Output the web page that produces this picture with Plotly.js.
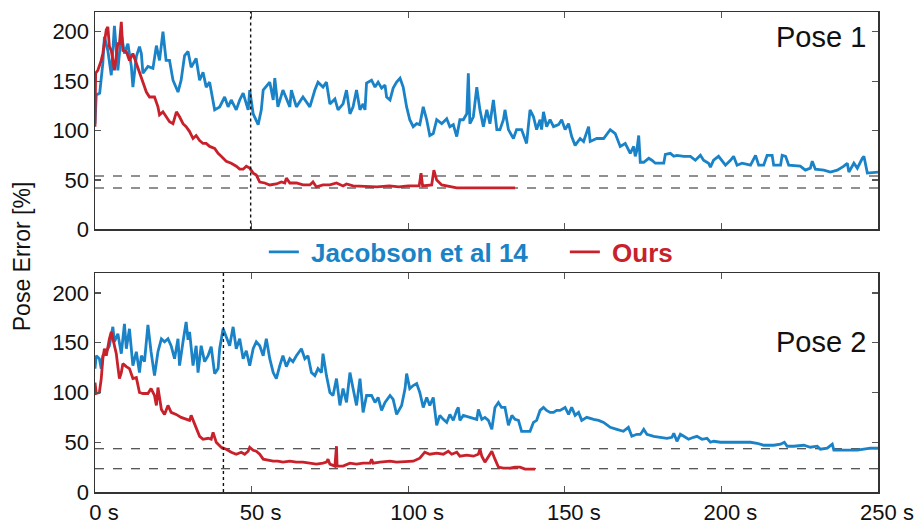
<!DOCTYPE html>
<html><head><meta charset="utf-8">
<script src="https://cdn.plot.ly/plotly-3.0.1.min.js"></script>
<style>html,body{margin:0;padding:0;background:#fff}#chart{width:920px;height:526px}</style>
</head><body><div id="chart"></div>
<script>
// Pose 1 – Jacobson et al 14
const p1JacX = [0,0.4,1.5,2.5,3.0,4.1,5.2,6.2,7.3,8.4,9.4,10.5,11.6,12.1,13.2,14.2,14.8,15.3,16.9,18.5,19.6,20.6,21.7,22.7,23.8,24.9,26.5,27.5,28.6,29.7,30.7,32.3,33.4,34.5,35.5,36.6,38.2,39.8,41.4,42.5,43.5,45.1,46.2,47.3,48.9,49.4,50.5,52.1,53.1,53.7,55.8,56.9,57.4,58.4,60.0,62.2,62.7,64.3,66.4,68.6,70.2,71.2,72.8,73.9,75.0,76.6,77.6,79.2,80.3,81.4,82.4,83.5,84.6,85.6,86.2,86.7,88.3,89.4,90.4,91.5,92.6,93.1,94.2,95.2,96.3,97.4,98.4,99.5,100.5,101.6,102.7,103.7,104.8,105.9,106.9,108.0,109.1,110.7,112.3,113.3,114.4,115.5,116.5,117.6,118.7,119.2,119.7,120.8,121.9,122.9,124.0,125.1,126.1,127.2,128.3,129.3,130.4,130.9,132.0,133.6,134.6,136.2,137.8,138.9,140.0,141.0,142.1,142.6,143.2,144.2,145.3,146.4,148.0,149.0,150.1,151.2,152.2,153.3,154.9,156.0,157.6,158.1,160.2,162.4,164.5,166.1,167.7,169.3,170.9,172.0,172.5,173.0,173.6,174.1,175.2,176.8,177.8,178.9,180.0,181.6,182.1,183.7,184.8,185.8,188.0,190.1,191.7,193.3,194.3,195.9,196.5,197.5,199.1,200.2,201.3,202.9,203.9,205.0,206.6,209.3,210.9,211.9,213.5,214.6,216.2,216.7,218.9,219.4,220.5,221.5,225.2,226.8,228.4,229.0,230.0,232.7,234.8,237.0,239.1,240.2,240.7,242.3,243.4,245.0,245.5,246.6,250];
const p1JacY = [107,136,138,168,195,181,156,206,161,198,178,188,165,144,175,185,178,158,165,163,186,171,200,171,171,151,139,151,176,180,164,173,151,159,144,149,121,124,134,124,131,121,131,138,121,141,117,106,121,141,149,131,153,124,141,124,141,124,134,124,141,149,144,149,127,132,121,127,141,117,124,141,121,127,121,148,151,144,149,143,146,134,131,143,149,153,144,124,111,104,107,106,124,111,95,97,111,107,112,104,106,94,111,111,117,158,107,114,144,121,104,121,107,131,101,101,111,121,101,92,101,101,87,121,114,101,111,101,119,104,111,104,106,111,101,107,94,85,92,89,104,89,92,92,101,97,84,87,77,84,74,80,95,68,68,72,70,67,67,67,76,77,74,75,74,74,70,75,70,67,63,70,74,69,65,70,74,65,67,65,75,65,65,75,75,65,65,75,74,65,64,60,62,69,61,60,58,60,64,67,58,67,62,72,74,57,58];
// Pose 1 – Ours
const p1OursX = [0,0.2,0.9,2.0,2.5,3.6,4.1,4.6,5.2,6.2,7.3,7.8,8.4,8.9,10.0,11.0,12.1,13.2,14.2,15.3,16.4,17.4,19.0,20.1,20.6,21.7,22.7,23.8,24.9,26.0,27.0,28.1,29.1,30.2,31.3,32.3,33.4,34.5,35.5,36.6,38.2,39.3,40.3,41.9,43.5,45.1,46.2,47.3,48.3,49.4,50.5,51.5,52.6,54.2,55.8,57.9,59.5,60.6,61.1,62.2,64.3,66.4,68.6,69.6,70.7,72.8,75.0,77.1,79.2,80.3,82.4,87.8,90,94,97,100,103.5,104.1,104.6,107.5,108.2,109.1,110.7,115.5,121.9,128,134.1];
const p1OursY = [104,158,161,171,178,202,205,185,181,161,188,188,210,181,180,171,178,168,158,148,139,134,134,124,116,119,114,109,107,119,114,107,104,99,92,95,90,87,87,84,82,77,74,69,67,64,61,61,64,62,57,55,48,47,45,46,48,47,52,47,47,45,45,48,43,45,45,47,44,46,44,43,43,44,43,44,44,57,44,45,60,50,45,42,42,42,42];
// Pose 2 – Jacobson et al 14
const p2JacX = [0,0.4,1.4,2.0,2.5,3.6,4.6,5.7,6.2,7.3,8.4,9.4,10.0,11.0,12.1,13.2,14.2,14.8,15.8,16.9,17.9,19.0,20.1,21.2,22.2,23.3,24.3,25.4,26.5,27.0,28.1,29.1,29.7,30.2,31.3,32.3,32.9,33.9,35.0,36.1,37.1,38.2,39.3,39.8,40.9,41.9,43.0,44.1,45.1,46.2,47.3,48.3,49.4,50.5,51.5,52.6,53.7,54.7,55.8,56.9,57.9,59.0,60.0,61.1,62.2,63.2,64.3,65.9,67.0,68.0,69.1,70.2,71.2,72.3,72.8,73.9,75.0,76.0,77.1,78.2,79.2,80.3,81.4,82.4,83.5,84.6,85.6,86.7,88.3,89.4,90.4,91.5,92.6,94.2,95.2,96.3,97.9,99.0,99.5,100.5,101.6,102.7,103.7,104.8,105.9,106.9,108.0,109.1,110.1,111.2,112.3,113.3,114.4,115.5,116.0,116.5,117.6,119.7,121.9,122.4,123.5,124.5,125.6,126.7,127.7,128.8,129.8,130.9,132.0,133.1,134.1,135.2,136.2,137.8,138.9,140.0,141.0,142.1,143.2,144.2,145.3,146.4,147.4,148.5,150.1,151.2,152.2,153.3,154.4,155.4,157.0,159.2,160.8,162.4,164.5,166.6,168.7,170.3,171.4,173.0,174.1,174.6,175.2,176.2,178.4,180.5,182.6,184.2,184.8,185.8,186.9,188.0,189.5,191.1,192.2,193.8,195.4,196.5,197.5,199.7,202.9,207.1,209.3,211.4,213.5,216.7,218.9,220.1,221.0,223.1,226.3,228.4,230.6,231.6,233.8,235.4,235.9,239.1,241.2,243.4,245.5,247.6,250];
const p2JacY = [124,137,134,124,137,141,147,166,151,159,139,169,144,164,127,141,120,137,131,168,141,117,141,154,151,154,147,134,154,127,151,171,153,161,127,147,120,147,131,137,146,119,124,144,164,156,147,166,144,154,134,142,127,144,151,147,137,154,134,120,114,127,137,126,134,131,137,144,134,137,120,117,124,120,139,117,100,97,114,87,104,90,120,104,87,114,80,97,97,90,95,82,90,97,93,78,87,104,119,104,107,109,100,85,95,87,95,67,77,73,70,78,72,82,85,72,77,75,73,83,73,75,72,63,85,90,85,85,67,77,73,72,61,61,61,70,72,82,85,82,80,80,82,82,85,78,85,77,80,72,75,73,72,70,65,63,61,65,56,58,58,60,63,58,56,55,54,55,59,51,58,56,53,55,56,53,54,50,51,50,50,50,50,49,47,47,48,50,46,46,47,45,46,43,44,48,42,42,42,42,43,44,44];
// Pose 2 – Ours
const p2OursX = [0,0.4,1.4,2.0,2.5,3.0,3.6,4.1,4.6,5.2,5.7,6.2,6.8,7.3,7.8,8.4,8.9,10.0,11.0,12.1,13.2,14.2,15.3,16.9,17.9,19.0,19.6,20.1,21.2,22.2,23.3,24.3,25.9,27.5,29.1,30.2,30.7,31.8,33.4,34.5,36.1,37.1,37.7,38.7,40.3,41.9,43.5,45.1,46.7,47.8,48.9,49.4,50.5,51.5,52.6,53.7,55.3,56.9,58.4,60.0,62.2,64.3,66.4,68.6,70.7,72.8,73.9,74.4,75.0,76.6,77.1,77.3,79.2,81.4,83.5,85.6,87.8,88.3,88.8,91.0,94.2,96.3,99.5,101.6,103.7,105.3,106.9,109.1,111.2,112.8,113.9,115.5,116.5,118.7,120.8,122.4,122.9,123.5,124.5,125.6,126.7,127.7,128.8,130.4,132.5,134.1,135.7,137.3,138.9,140.5];
const p2OursY = [110,99,100,114,134,144,137,147,154,161,153,147,139,126,114,120,129,126,124,114,115,100,99,99,104,97,87,105,83,78,87,80,78,75,73,72,77,68,56,53,54,53,60,50,45,43,40,38,40,38,41,45,42,41,38,33,32,31,31,30,31,30,30,29,28,29,30,33,28,26,46,26,26,29,28,29,29,33,29,30,31,30,31,31,34,40,38,39,38,41,38,40,36,37,36,38,43,36,30,36,41,33,25,24,24,25,25,23,23,23];
// reference lines
const p1Dashed = [54, 42];
const p2Dashed = [43.5, 23.3];
const p1Dotted = 49.7;
const p2Dotted = 41;
const xTickVals = [0,50,100,150,200,250];
const xTickText = ['0 s','50 s','100 s','150 s','200 s','250 s'];
const yTickVals = [0,50,100,150,200];
const seriesNames = ['Jacobson et al 14','Ours'];
const panelLabels = ['Pose 1','Pose 2'];

const BLUE = '#1a82c6', RED = '#c8212b';
const FONT = 'Liberation Sans, Arial, Helvetica, sans-serif';
const lw = 2.8;
const traces = [
  {x:p1JacX, y:p1JacY, xaxis:'x', yaxis:'y', mode:'lines', line:{color:BLUE,width:lw}, showlegend:true, legendwidth:256,
   name:'<span style="color:'+BLUE+'"><b> '+seriesNames[0]+'</b></span>'},
  {x:p1OursX, y:p1OursY, xaxis:'x', yaxis:'y', mode:'lines', line:{color:RED,width:lw}, showlegend:true,
   name:'<span style="color:'+RED+'"><b> '+seriesNames[1]+'</b></span>'},
  {x:p2JacX, y:p2JacY, xaxis:'x2', yaxis:'y2', mode:'lines', line:{color:BLUE,width:lw}, showlegend:false},
  {x:p2OursX, y:p2OursY, xaxis:'x2', yaxis:'y2', mode:'lines', line:{color:RED,width:lw}, showlegend:false}
];
const shapes = [];
p1Dashed.forEach(v=>shapes.push({type:'line',xref:'x domain',yref:'y',x0:0,x1:1,y0:v,y1:v,line:{color:'#222',width:1.1,dash:'dash'},layer:'below'}));
p2Dashed.forEach(v=>shapes.push({type:'line',xref:'x2 domain',yref:'y2',x0:0,x1:1,y0:v,y1:v,line:{color:'#222',width:1.1,dash:'dash'},layer:'below'}));
shapes.push({type:'line',xref:'x',yref:'y domain',x0:p1Dotted,x1:p1Dotted,y0:0,y1:1,line:{color:'#111',width:1.4,dash:'dot'}});
shapes.push({type:'line',xref:'x2',yref:'y2 domain',x0:p2Dotted,x1:p2Dotted,y0:0,y1:1,line:{color:'#111',width:1.4,dash:'dot'}});

const axCommon = {range:[0,250], showgrid:false, zeroline:false, showline:true, mirror:'ticks', linecolor:'#333', linewidth:1.5,
  ticks:'inside', ticklen:6, tickcolor:'#555', tickwidth:1.3, tickvals:xTickVals, ticktext:xTickText,
  tickfont:{family:FONT,size:22,color:'#111'}};
const yCommon = {range:[0,220], showgrid:false, zeroline:false, showline:true, mirror:'ticks', linecolor:'#333', linewidth:1.5,
  ticks:'inside', ticklen:6, tickcolor:'#555', tickwidth:1.3, tickvals:yTickVals,
  tickfont:{family:FONT,size:22,color:'#111'}};

const layout = {
  width:920, height:526,
  margin:{l:95, r:42, t:12, b:34},
  paper_bgcolor:'#fff', plot_bgcolor:'#fff',
  font:{family:FONT,color:'#111'},
  xaxis:Object.assign({}, axCommon, {domain:[0,1], anchor:'y', showticklabels:false}),
  yaxis:Object.assign({}, yCommon, {domain:[0.547,1], anchor:'x'}),
  xaxis2:Object.assign({}, axCommon, {domain:[0,1], anchor:'y2', ticklabelshift:9, ticklabeloverflow:'allow'}),
  yaxis2:Object.assign({}, yCommon, {domain:[0,0.456], anchor:'x2'}),
  shapes:shapes,
  showlegend:true,
  legend:{orientation:'h', x:0.48, xanchor:'center', y:0.5, yanchor:'middle', bgcolor:'rgba(0,0,0,0)',
    font:{family:FONT, size:26}},
  annotations:[
    {xref:'x domain', yref:'y domain', x:0.987, y:0.885, xanchor:'right', yanchor:'middle', text:panelLabels[0], showarrow:false, font:{family:FONT,size:29,color:'#111'}},
    {xref:'x2 domain', yref:'y2 domain', x:0.987, y:0.686, xanchor:'right', yanchor:'middle', text:panelLabels[1], showarrow:false, font:{family:FONT,size:29,color:'#111'}},
    {xref:'paper', yref:'paper', x:-0.094, y:0.492, xanchor:'center', yanchor:'middle', textangle:-90, text:'Pose Error [%]', showarrow:false, font:{family:FONT,size:23,color:'#111'}}
  ]
};
Plotly.newPlot('chart', traces, layout, {displayModeBar:false, staticPlot:true});
</script></body></html>
